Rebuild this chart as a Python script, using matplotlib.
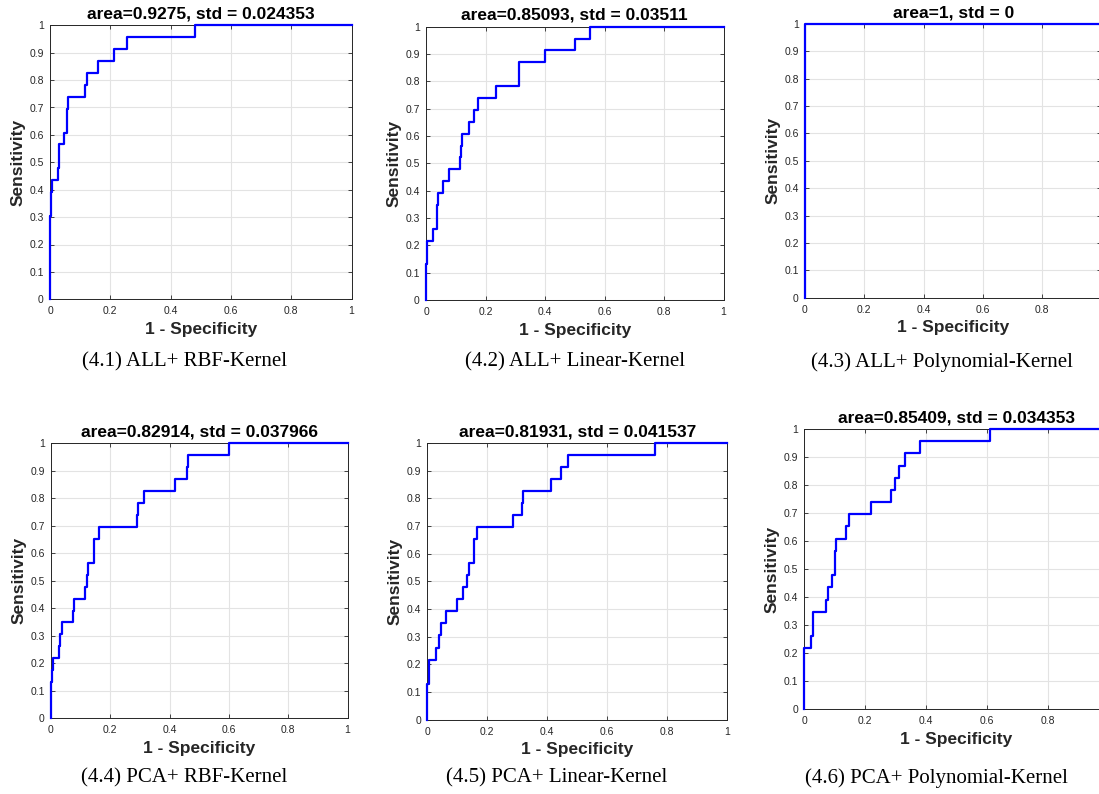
import matplotlib
matplotlib.use("Agg")
import matplotlib.pyplot as plt
import numpy as np

N_POS = 23.0

# ROC curves: fpr values where the curve steps up, and tpr level (count of positives / 23) reached there
fpr_all_rbf = [0.0, 0.004, 0.007, 0.025, 0.030, 0.046, 0.056, 0.060, 0.115, 0.122, 0.159, 0.212, 0.255, 0.482]
tpr_all_rbf = [7, 9, 10, 11, 13, 14, 16, 17, 18, 19, 20, 21, 22, 23]

fpr_all_lin = [0.0, 0.003, 0.022, 0.036, 0.039, 0.056, 0.078, 0.114, 0.117, 0.121, 0.145, 0.160, 0.174, 0.235, 0.314, 0.400, 0.502, 0.550]
tpr_all_lin = [3, 5, 6, 8, 9, 10, 11, 12, 13, 14, 15, 16, 17, 18, 20, 21, 22, 23]

fpr_all_poly = [0.0]
tpr_all_poly = [23]

fpr_pca_rbf = [0.0, 0.003, 0.006, 0.027, 0.031, 0.037, 0.074, 0.079, 0.113, 0.120, 0.124, 0.144, 0.161, 0.289, 0.294, 0.315, 0.417, 0.458, 0.461, 0.600]
tpr_pca_rbf = [3, 4, 5, 6, 7, 8, 9, 10, 11, 12, 13, 15, 16, 17, 18, 19, 20, 21, 22, 23]

fpr_pca_lin = [0.0, 0.006, 0.029, 0.039, 0.044, 0.062, 0.098, 0.118, 0.133, 0.140, 0.154, 0.164, 0.285, 0.314, 0.318, 0.413, 0.444, 0.469, 0.758]
tpr_pca_lin = [3, 5, 6, 7, 8, 9, 10, 11, 12, 13, 15, 16, 17, 18, 19, 20, 21, 22, 23]

fpr_pca_poly = [0.0, 0.021, 0.030, 0.071, 0.077, 0.092, 0.101, 0.104, 0.136, 0.148, 0.219, 0.284, 0.298, 0.310, 0.331, 0.380, 0.612]
tpr_pca_poly = [5, 6, 8, 9, 10, 11, 13, 14, 15, 16, 17, 18, 19, 20, 21, 22, 23]

titles = ["area=0.9275, std = 0.024353", "area=0.85093, std = 0.03511", "area=1, std = 0",
          "area=0.82914, std = 0.037966", "area=0.81931, std = 0.041537", "area=0.85409, std = 0.034353"]
captions = ["(4.1) ALL+ RBF-Kernel", "(4.2) ALL+ Linear-Kernel", "(4.3) ALL+ Polynomial-Kernel",
            "(4.4) PCA+ RBF-Kernel", "(4.5) PCA+ Linear-Kernel", "(4.6) PCA+ Polynomial-Kernel"]
curves = [(fpr_all_rbf, tpr_all_rbf), (fpr_all_lin, tpr_all_lin), (fpr_all_poly, tpr_all_poly),
          (fpr_pca_rbf, tpr_pca_rbf), (fpr_pca_lin, tpr_pca_lin), (fpr_pca_poly, tpr_pca_poly)]

xticks = [0, 0.2, 0.4, 0.6, 0.8, 1]
xticklabels = ["0", "0.2", "0.4", "0.6", "0.8", "1"]
yticks = [0, 0.1, 0.2, 0.3, 0.4, 0.5, 0.6, 0.7, 0.8, 0.9, 1]
yticklabels = ["0", "0.1", "0.2", "0.3", "0.4", "0.5", "0.6", "0.7", "0.8", "0.9", "1"]

W, H = 1099, 794
# axes boxes in pixels: left, right, top, bottom
boxes = [(50, 351.5, 25.3, 299.3), (426, 723.5, 26.7, 300), (805, 1101.5, 24, 297.7),
         (51, 347.6, 443.3, 718), (427.3, 727.3, 443, 719.7), (804.3, 1108.5, 429, 709.3)]
cap_pos = [(184, 362), (575, 362), (942, 362), (184, 778), (557, 778), (936, 778)]
clipped_right = [False, False, True, False, False, True]

fig = plt.figure(figsize=(W / 100, H / 100), dpi=100)
sans = ["Liberation Sans", "DejaVu Sans"]
serif = ["Liberation Serif", "DejaVu Serif"]
dark = "#262626"

for i in range(6):
    l, r, t, b = boxes[i]
    ax = fig.add_axes([l / W, 1 - b / H, (r - l) / W, (b - t) / H])
    fx, ty = curves[i]
    xs = [0.0] + list(fx) + [1.0]
    ys = [0.0] + [v / N_POS for v in ty] + [1.0]
    ax.plot(xs, ys, drawstyle="steps-post", color="#0000ff", lw=1.6, clip_on=False, zorder=5)
    ax.set_xlim(0, 1)
    ax.set_ylim(0, 1)
    ax.set_xticks(xticks)
    xl = list(xticklabels)
    if clipped_right[i]:
        xl[-1] = ""
    ax.set_xticklabels(xl, family=sans, fontsize=7.5, color=dark)
    ax.set_yticks(yticks)
    ax.set_yticklabels(yticklabels, family=sans, fontsize=7.5, color=dark)
    ax.tick_params(direction="in", length=3, width=0.6, color=dark, top=True, right=True)
    ax.tick_params(axis="x", pad=5)
    ax.tick_params(axis="y", pad=4.5)
    ax.grid(True, color="#e3e3e3", lw=0.8)
    ax.set_axisbelow(True)
    for s in ax.spines.values():
        s.set_color(dark)
        s.set_linewidth(0.7)
    ax.set_title(titles[i], family=sans, fontsize=12.5, fontweight="bold", pad=5)
    ax.set_xlabel("1 - Specificity", family=sans, fontsize=12.5, fontweight="bold", labelpad=4, color=dark)
    ax.set_ylabel("Sensitivity", family=sans, fontsize=12.5, fontweight="bold", labelpad=3, color=dark)
    cx, cy = cap_pos[i]
    fig.text(cx / W, 1 - cy / H, captions[i], family=serif, fontsize=15, ha="center", va="center")

fig.savefig("out.png", dpi=100)
